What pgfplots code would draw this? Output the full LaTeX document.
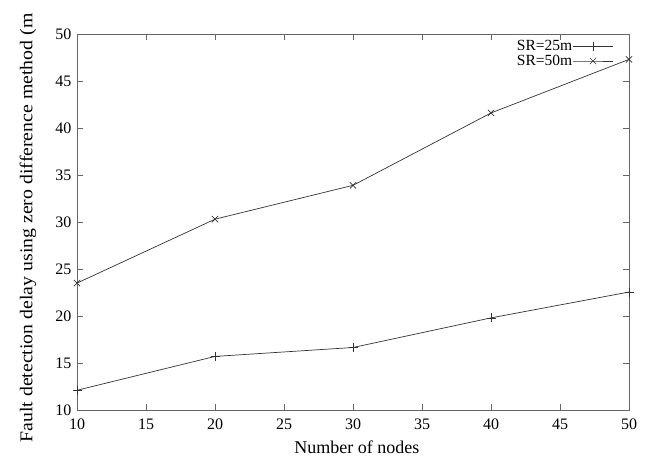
\documentclass[border=0pt]{standalone}
\usepackage{fontspec}
\setmainfont{Liberation Serif}
\usepackage{pgfplots}
\pgfplotsset{compat=1.18}
\begin{document}
\begin{tikzpicture}
\begin{axis}[
  name=ax,
  scale only axis,
  width=552pt, height=376pt,
  xmin=10, xmax=50, ymin=10, ymax=50,
  xtick={10,15,...,50}, ytick={10,15,...,50},
  tick align=inside,
  major tick length=6pt,
  /pgf/number format/assume math mode=true,
  tick label style={font=\fontsize{16}{18}\selectfont},
  xticklabel style={yshift=-5pt},
  yticklabel style={xshift=-2pt},
  xlabel style={font=\fontsize{18}{20}\selectfont, at={(axis description cs:0.507,-0.098)}, anchor=center},
  ylabel style={font=\fontsize{18}{20}\selectfont, xscale=1.1, at={(axis description cs:-0.089,0.484)}, anchor=center},
  xlabel={Number of nodes},
  ylabel={Fault detection delay using zero difference method (m},
  axis line style={black!60, line width=0.7pt},
  every tick/.style={black!60, line width=0.6pt},
  legend style={draw=none, fill=none, at={(0.972,0.985)}, anchor=north east,
    inner sep=0pt,
    font=\fontsize{15.5}{14}\selectfont, row sep=2pt,
    nodes={inner sep=0.5pt}},
  legend plot pos=right,
  legend cell align=right,
  legend image code/.code={\draw[mark repeat=2,mark phase=2,#1] plot coordinates {(0pt,0pt) (20pt,0pt) (40pt,0pt)};},
  /tikz/every even column/.append style={column sep=4pt},
  clip=false,
]
\addplot[black!80, line width=0.7pt, mark=+, mark size=4.5pt] coordinates {
(10,12.1) (20,15.7) (30,16.65) (40,19.8) (50,22.55)};
\addlegendentry{SR=25m}
\addplot[black!80, line width=0.7pt, mark=x, mark size=4.5pt] coordinates {
(10,23.5) (20,30.3) (30,33.9) (40,41.6) (50,47.3)};
\addlegendentry{SR=50m}
\end{axis}
\pgfresetboundingbox
\path[use as bounding box] ([xshift=-77pt,yshift=-49pt]ax.south west) rectangle ([xshift=25pt,yshift=34pt]ax.north east);
\end{tikzpicture}
\end{document}
